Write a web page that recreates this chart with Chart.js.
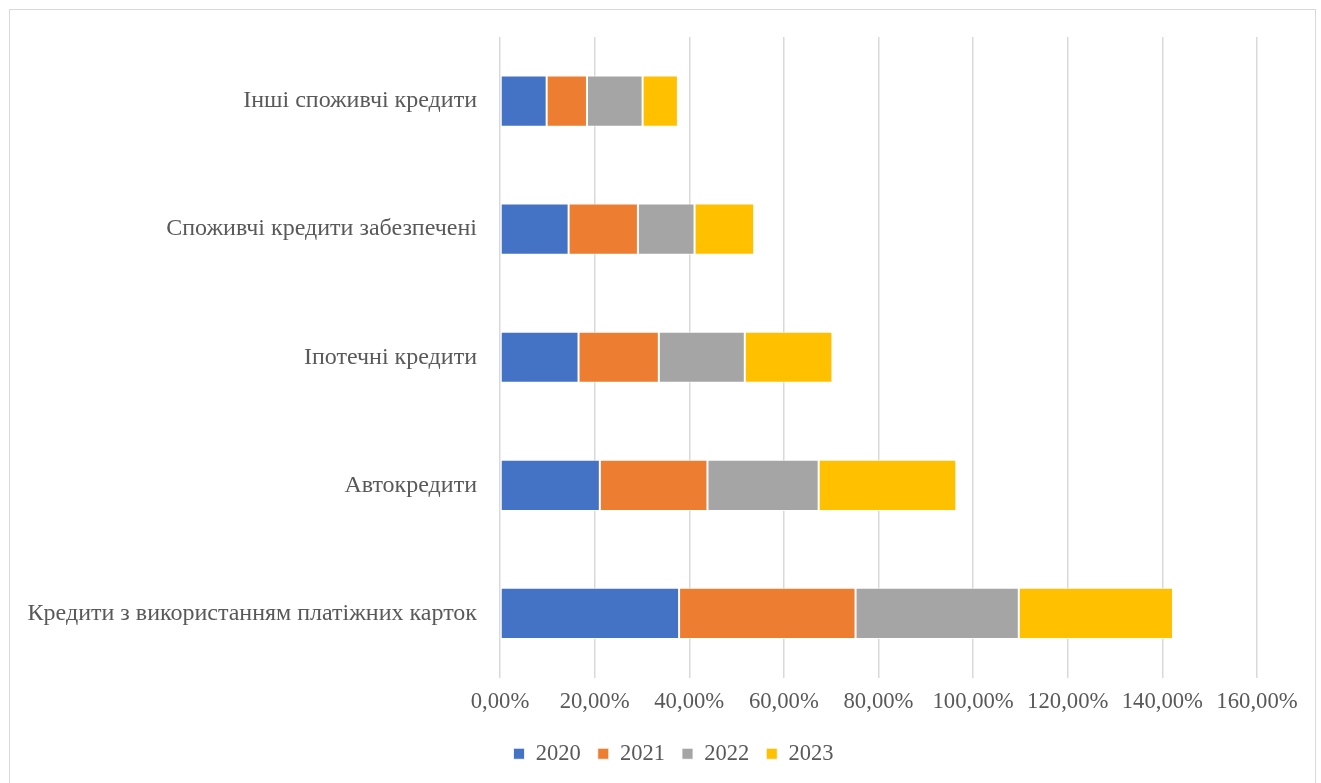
<!DOCTYPE html>
<html>
<head>
<meta charset="utf-8">
<script src="https://cdn.jsdelivr.net/npm/chart.js@4.4.0/dist/chart.umd.min.js"></script>
<style>
    html, body { margin: 0; padding: 0; background: #fff; }
    #wrap { position: absolute; left: 9px; top: 9px; width: 1307px; height: 790px; border: 1px solid #d9d9d9; box-sizing: border-box; }
    #myChart { position: absolute; left: 0; top: 0; }
</style>
</head>
<body>
<div id="wrap"></div>
<canvas id="myChart" width="1321" height="783"></canvas>
<script>
// categories (Excel order: first one sits at the bottom)
const categories = [
    'Кредити з використанням платіжних карток',
    'Автокредити',
    'Іпотечні кредити',
    'Споживчі кредити забезпечені',
    'Інші споживчі кредити'
];
const years = ['2020', '2021', '2022', '2023'];

// values in %
const values2020 = [37.85, 21.1, 16.6, 14.5, 9.86];
const values2021 = [37.3, 22.75, 16.97, 14.65, 8.52];
const values2022 = [34.5, 23.5, 18.17, 11.97, 11.76];
const values2023 = [32.6, 29.1, 18.52, 12.6, 7.46];

const xTicks = [0, 20, 40, 60, 80, 100, 120, 140, 160];

const colors = ['#4472c4', '#ed7d31', '#a5a5a5', '#ffc000'];
const allValues = [values2020, values2021, values2022, values2023];

const serif = "'Liberation Serif', 'Times New Roman', serif";

const dataChart = {
    labels: categories,
    datasets: years.map((y, i) => ({
        label: y,
        data: allValues[i],
        backgroundColor: colors[i],
        borderColor: 'rgba(255,255,255,0.8)',
        borderWidth: 1,
        borderSkipped: false,
        barPercentage: 0.4,
        categoryPercentage: 1
    }))
};

// Excel centres the legend a bit to the right of the canvas centre
const shiftLegend = {
    id: 'shiftLegend',
    afterLayout(chart) {
        chart.legend.left += 45;
        chart.legend.right += 45;
    }
};

const config1 = {
    type: 'bar',
    data: dataChart,
    plugins: [shiftLegend],
    options: {
        indexAxis: 'y',
        responsive: false,
        animation: false,
        layout: { padding: { left: 0, right: 64, top: 37, bottom: 8 } },
        scales: {
            x: {
                stacked: true,
                min: 0,
                max: 160,
                afterBuildTicks: (scale) => { scale.ticks = xTicks.map(v => ({ value: v })); },
                afterFit: (scale) => { scale.height = 48; },
                grid: { color: '#d9d9d9', lineWidth: 1.5, drawTicks: false },
                border: { display: false },
                ticks: {
                    padding: 11,
                    color: '#595959',
                    font: { family: serif, size: 22.7 },
                    callback: (v) => v.toFixed(2).replace('.', ',') + '%'
                }
            },
            y: {
                stacked: true,
                reverse: true,
                afterFit: (scale) => { scale.width = 500; },
                grid: { display: false },
                border: { display: false },
                ticks: { color: '#595959', font: { family: serif, size: 24 }, padding: 15 }
            }
        },
        plugins: {
            legend: {
                position: 'bottom',
                labels: {
                    color: '#595959',
                    font: { family: serif, size: 22.5 },
                    boxWidth: 11,
                    boxHeight: 11,
                    padding: 17
                }
            },
            tooltip: { enabled: false }
        }
    }
};

const myChart = new Chart(
    document.getElementById('myChart'),
    config1
);
</script>
</body>
</html>
